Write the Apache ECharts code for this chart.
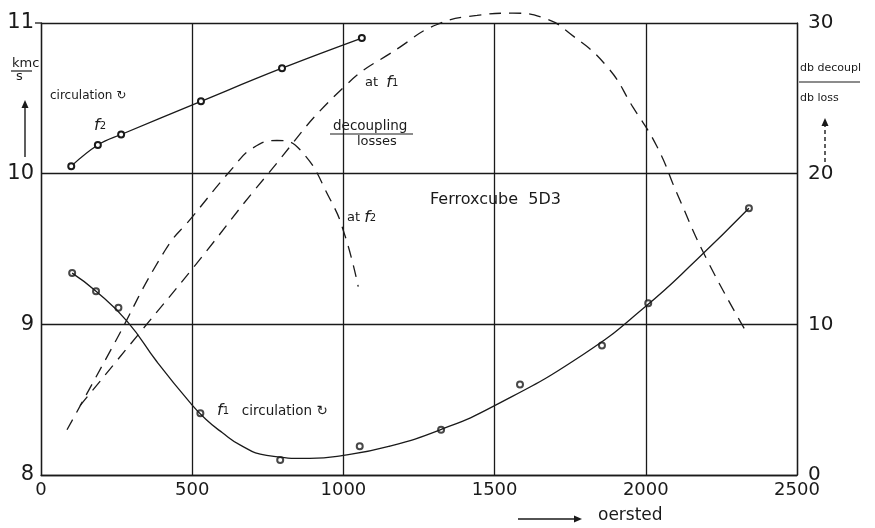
<!DOCTYPE html>
<html>
<head>
<meta charset="utf-8">
<script src="https://cdn.jsdelivr.net/npm/echarts@6/dist/echarts.min.js"></script>
<style>
  html, body { margin: 0; padding: 0; background: #fff; }
  #chart { width: 875px; height: 528px; }
</style>
</head>
<body>
<div id="chart"></div>
<script>
  // field in oersted, left axis kmc/s, right axis db decoupl / db loss
  const xTicks = [0, 500, 1000, 1500, 2000, 2500];
  const leftTicks = [8, 9, 10, 11];
  const rightTicks = [0, 10, 20, 30];

  // f2 circulation, measured points (line drawn through them)
  const f2Circulation = [[100, 10.05], [188, 10.19], [265, 10.26], [529, 10.48], [797, 10.70], [1061, 10.90]];

  // f1 circulation, measured points
  const f1Points = [[103, 9.34], [182, 9.22], [256, 9.11], [527, 8.41], [791, 8.10], [1054, 8.19],
                    [1323, 8.30], [1584, 8.60], [1855, 8.86], [2008, 9.14], [2341, 9.77]];
  // f1 circulation, faired curve as drawn
  const f1Curve = [[103, 9.34], [182, 9.22], [285, 9.02], [384, 8.75], [493, 8.48], [545, 8.37],
                   [600, 8.28], [658, 8.20], [746, 8.13], [889, 8.11], [1000, 8.13], [1150, 8.19],
                   [1320, 8.30], [1500, 8.46], [1793, 8.80], [2000, 9.12], [2169, 9.43], [2341, 9.77]];

  // decoupling / losses (right axis)
  const decouplF1 = [[129, 4.6], [327, 9.45], [509, 13.9], [747, 19.9], [999, 25.7], [1187, 28.4],
                     [1310, 29.9], [1442, 30.5], [1560, 30.65], [1667, 30.3], [1749, 29.3], [1872, 27.1],
                     [1958, 24.4], [2037, 21.8], [2103, 18.7], [2202, 14.3], [2338, 9.3]];
  const decouplF2 = [[86, 3.0], [235, 8.45], [410, 14.9], [499, 17.1], [635, 20.4], [700, 21.7],
                     [780, 22.2], [856, 21.6], [956, 18.3], [1005, 15.9], [1049, 12.5]];

  const ink = '#1a1a1a';
  const font = 'DejaVu Sans';

  const chart = echarts.init(document.getElementById('chart'));

  function arrow(x1, y1, x2, y2, dashed) {
    const a = Math.atan2(y2 - y1, x2 - x1);
    const hl = 8, hw = 3.5;
    const bx = x2 - hl * Math.cos(a), by = y2 - hl * Math.sin(a);
    return [
      { type: 'line', shape: { x1: x1, y1: y1, x2: bx, y2: by },
        style: { stroke: ink, lineWidth: 1.4, lineDash: dashed ? [4, 3] : null } },
      { type: 'polygon', shape: { points: [[x2, y2],
          [bx + hw * Math.sin(a), by - hw * Math.cos(a)],
          [bx - hw * Math.sin(a), by + hw * Math.cos(a)]] },
        style: { fill: ink } }
    ];
  }

  function label(x, y, text, size) {
    return {
      type: 'text', x: x, y: y,
      style: { text: text, fill: ink, font: (size || 12) + 'px "' + font + '"', textVerticalAlign: 'middle' }
    };
  }

  const rich = {
    a: { fontSize: 13, fontFamily: font, fill: ink },
    c: { fontSize: 13.5, fontFamily: font, fill: ink },
    f: { fontSize: 16, fontStyle: 'italic', fontFamily: font, fill: ink },
    n: { fontSize: 10, fontFamily: font, fill: ink }
  };

  const graphics = [
    // top frame line runs a little past the left axis
    { type: 'line', shape: { x1: 35, y1: 23, x2: 41, y2: 23 }, style: { stroke: ink, lineWidth: 1.3 } },
    // left unit
    label(12, 64, 'kmc', 13),
    { type: 'line', shape: { x1: 11, y1: 71, x2: 32, y2: 71 }, style: { stroke: ink, lineWidth: 1.2 } },
    label(16, 77, 's', 13),
    ...arrow(25, 157, 25, 100, false),
    // right unit
    label(800, 68, 'db decoupl', 11),
    { type: 'line', shape: { x1: 799, y1: 82, x2: 860, y2: 82 }, style: { stroke: ink, lineWidth: 1.2 } },
    label(800, 98, 'db loss', 11),
    ...arrow(825, 162, 825, 118, true),
    // annotations
    label(50, 96, 'circulation ↻', 12),
    { type: 'text', x: 94, y: 126, style: { rich: rich, text: '{f|f}{n|2}', textVerticalAlign: 'middle' } },
    { type: 'text', x: 365, y: 83, style: { rich: rich, text: '{a|at  }{f|f}{n|1}', textVerticalAlign: 'middle' } },
    label(333, 126, 'decoupling', 13.5),
    { type: 'line', shape: { x1: 330, y1: 134, x2: 413, y2: 134 }, style: { stroke: ink, lineWidth: 1.2 } },
    label(357, 142, 'losses', 13),
    { type: 'text', x: 347, y: 218, style: { rich: rich, text: '{a|at }{f|f}{n|2}', textVerticalAlign: 'middle' } },
    label(430, 200, 'Ferroxcube  5D3', 16),
    { type: 'text', x: 217, y: 411, style: { rich: rich, text: '{f|f}{n|1}{c|   circulation ↻}', textVerticalAlign: 'middle' } },
    // x unit
    ...arrow(518, 519, 582, 519, false),
    label(598, 516, 'oersted', 17)
  ];

  chart.setOption({
    animation: false,
    backgroundColor: '#fff',
    textStyle: { fontFamily: font, color: ink },
    grid: { left: 41, right: 78, top: 23, bottom: 53 },
    xAxis: {
      type: 'value', min: xTicks[0], max: xTicks[xTicks.length - 1], interval: 500,
      axisLine: { show: true, lineStyle: { color: ink, width: 1.3 } },
      axisTick: { show: false },
      splitLine: { show: true, lineStyle: { color: ink, width: 1.3 } },
      axisLabel: { fontSize: 18, color: ink, margin: 6, formatter: v => String(v) }
    },
    yAxis: [{
      type: 'value', position: 'left', min: leftTicks[0], max: leftTicks[leftTicks.length - 1], interval: 1,
      axisLine: { show: true, lineStyle: { color: ink, width: 1.3 } },
      axisTick: { show: false },
      splitLine: { show: true, lineStyle: { color: ink, width: 1.3 } },
      axisLabel: { fontSize: 21, color: ink, margin: 7, padding: [0, 0, 12, 0], formatter: v => String(v) }
    }, {
      type: 'value', position: 'right', min: rightTicks[0], max: rightTicks[rightTicks.length - 1], interval: 10,
      axisLine: { show: true, lineStyle: { color: ink, width: 1.3 } },
      axisTick: { show: false },
      splitLine: { show: false },
      axisLabel: { fontSize: 20, color: ink, margin: 11, padding: [0, 0, 15, 0], formatter: v => String(v) }
    }],
    graphic: graphics,
    series: [{
      name: 'f2 circulation', type: 'line', yAxisIndex: 0, data: f2Circulation,
      smooth: 0.4, symbol: 'emptyCircle', symbolSize: 6,
      itemStyle: { color: ink, borderWidth: 1.2 },
      lineStyle: { color: ink, width: 1.3 }
    }, {
      name: 'f1 circulation curve', type: 'line', yAxisIndex: 0, data: f1Curve,
      smooth: 0.5, showSymbol: false,
      lineStyle: { color: ink, width: 1.3 }
    }, {
      name: 'f1 circulation', type: 'scatter', yAxisIndex: 0, data: f1Points,
      symbol: 'emptyCircle', symbolSize: 6,
      itemStyle: { color: ink, borderWidth: 1.2 }
    }, {
      name: 'decoupling/losses at f1', type: 'line', yAxisIndex: 1, data: decouplF1,
      smooth: 0.5, showSymbol: false, clip: false,
      lineStyle: { color: ink, width: 1.3, type: [12, 8] }
    }, {
      name: 'decoupling/losses at f2', type: 'line', yAxisIndex: 1, data: decouplF2,
      smooth: 0.5, showSymbol: false, clip: false,
      lineStyle: { color: ink, width: 1.3, type: [12, 8] }
    }]
  });
</script>
</body>
</html>
